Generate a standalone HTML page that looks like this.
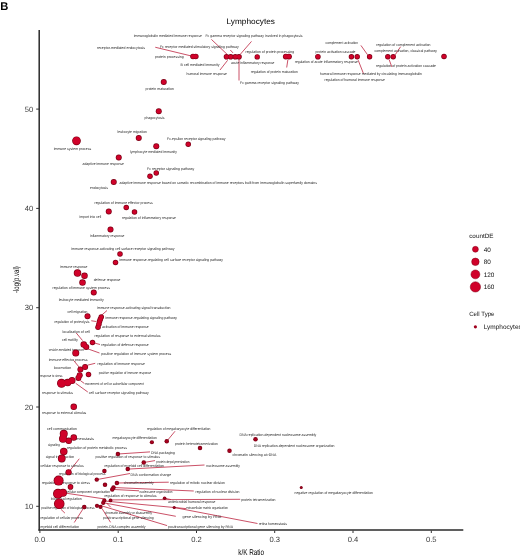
<!DOCTYPE html><html><head><meta charset="utf-8"><style>html,body{margin:0;padding:0;background:#fff;width:520px;height:557px;overflow:hidden}svg{display:block;will-change:transform}text{font-family:"Liberation Sans",sans-serif;text-rendering:geometricPrecision;-webkit-font-smoothing:antialiased}</style></head><body>
<svg width="520" height="557" viewBox="0 0 520 557">
<text x="0.3" y="9.8" font-size="11.2" font-weight="bold" fill="#000">B</text>
<text x="226.6" y="24.2" font-size="8" fill="#000" textLength="48.3" lengthAdjust="spacingAndGlyphs">Lymphocytes</text>
<g stroke="#bc2440" stroke-width="0.8" fill="none">
<line x1="155.25" y1="47.25" x2="192.50" y2="56.25"/>
<line x1="211.40" y1="39.40" x2="227.00" y2="54.20"/>
<line x1="251.50" y1="41.40" x2="240.40" y2="54.20"/>
<line x1="230.30" y1="50.00" x2="233.00" y2="52.90"/>
<line x1="227.60" y1="60.30" x2="220.00" y2="70.00"/>
<line x1="239.00" y1="59.00" x2="239.00" y2="80.50"/>
<line x1="287.90" y1="59.60" x2="286.70" y2="67.50"/>
<line x1="358.20" y1="60.20" x2="363.50" y2="73.70"/>
<line x1="360.90" y1="45.40" x2="367.60" y2="54.80"/>
<line x1="400.60" y1="46.70" x2="395.20" y2="54.80"/>
<line x1="389.10" y1="59.50" x2="391.80" y2="66.90"/>
<line x1="107.00" y1="310.50" x2="101.25" y2="315.50"/>
<line x1="91.25" y1="320.75" x2="96.25" y2="321.50"/>
<line x1="76.25" y1="333.00" x2="82.50" y2="340.50"/>
<line x1="92.50" y1="342.50" x2="100.00" y2="344.50"/>
<line x1="87.50" y1="348.75" x2="99.50" y2="353.00"/>
<line x1="73.60" y1="360.40" x2="79.70" y2="367.80"/>
<line x1="87.80" y1="365.10" x2="95.20" y2="363.30"/>
<line x1="80.40" y1="380.60" x2="84.40" y2="383.50"/>
<line x1="75.70" y1="383.30" x2="87.80" y2="392.00"/>
<line x1="79.25" y1="458.75" x2="68.60" y2="472.25"/>
<line x1="117.90" y1="454.00" x2="150.00" y2="451.90"/>
<line x1="143.75" y1="462.50" x2="155.00" y2="460.60"/>
<line x1="175.00" y1="431.25" x2="166.75" y2="441.25"/>
<line x1="127.75" y1="469.10" x2="204.50" y2="465.00"/>
<line x1="96.75" y1="479.60" x2="130.00" y2="473.50"/>
<line x1="116.90" y1="483.00" x2="168.75" y2="482.20"/>
<line x1="113.50" y1="487.50" x2="193.75" y2="491.00"/>
<line x1="112.25" y1="489.40" x2="139.00" y2="490.80"/>
<line x1="66.00" y1="493.20" x2="103.50" y2="498.80"/>
<line x1="164.60" y1="498.20" x2="171.00" y2="499.60"/>
<line x1="110.50" y1="499.90" x2="240.20" y2="499.30"/>
<line x1="104.30" y1="501.00" x2="174.20" y2="507.50"/>
<line x1="174.20" y1="507.50" x2="186.00" y2="508.60"/>
<line x1="174.20" y1="507.50" x2="257.50" y2="523.50"/>
<line x1="103.20" y1="502.70" x2="175.80" y2="516.30"/>
<line x1="100.50" y1="505.50" x2="167.10" y2="525.60"/>
<line x1="102.00" y1="508.50" x2="110.50" y2="522.30"/>
<line x1="107.00" y1="503.50" x2="110.80" y2="507.30"/>
<line x1="84.25" y1="507.00" x2="74.25" y2="522.50"/>
<line x1="61.00" y1="509.40" x2="64.90" y2="513.10"/>
</g>
<g font-size="3.70" fill="#262626" opacity="0.995">
<text x="133.75" y="36.95" textLength="68.15" lengthAdjust="spacingAndGlyphs">immunoglobulin mediated immune response</text>
<text x="205.50" y="36.65" textLength="97.00" lengthAdjust="spacingAndGlyphs">Fc gamma receptor signaling pathway involved in phagocytosis</text>
<text x="97.00" y="49.35" textLength="48.00" lengthAdjust="spacingAndGlyphs">receptor-mediated endocytosis</text>
<text x="160.00" y="47.55" textLength="78.75" lengthAdjust="spacingAndGlyphs">Fc receptor mediated stimulatory signaling pathway</text>
<text x="155.00" y="57.85" textLength="28.75" lengthAdjust="spacingAndGlyphs">protein processing</text>
<text x="180.60" y="66.05" textLength="38.90" lengthAdjust="spacingAndGlyphs">B cell mediated immunity</text>
<text x="186.50" y="74.85" textLength="40.50" lengthAdjust="spacingAndGlyphs">humoral immune response</text>
<text x="231.00" y="63.85" textLength="43.50" lengthAdjust="spacingAndGlyphs">acute inflammatory response</text>
<text x="245.50" y="52.85" textLength="48.70" lengthAdjust="spacingAndGlyphs">regulation of protein processing</text>
<text x="250.75" y="72.55" textLength="47.15" lengthAdjust="spacingAndGlyphs">regulation of protein maturation</text>
<text x="240.00" y="83.85" textLength="59.00" lengthAdjust="spacingAndGlyphs">Fc gamma receptor signaling pathway</text>
<text x="294.80" y="63.35" textLength="63.20" lengthAdjust="spacingAndGlyphs">regulation of acute inflammatory response</text>
<text x="315.50" y="52.65" textLength="40.00" lengthAdjust="spacingAndGlyphs">protein activation cascade</text>
<text x="320.00" y="75.35" textLength="102.00" lengthAdjust="spacingAndGlyphs">humoral immune response mediated by circulating immunoglobulin</text>
<text x="324.50" y="81.35" textLength="60.50" lengthAdjust="spacingAndGlyphs">regulation of humoral immune response</text>
<text x="325.50" y="44.35" textLength="32.50" lengthAdjust="spacingAndGlyphs">complement activation</text>
<text x="376.25" y="45.85" textLength="54.25" lengthAdjust="spacingAndGlyphs">regulation of complement activation</text>
<text x="374.50" y="52.15" textLength="62.50" lengthAdjust="spacingAndGlyphs">complement activation, classical pathway</text>
<text x="376.10" y="67.05" textLength="59.90" lengthAdjust="spacingAndGlyphs">regulation of protein activation cascade</text>
<text x="145.50" y="90.35" textLength="28.50" lengthAdjust="spacingAndGlyphs">protein maturation</text>
<text x="144.50" y="118.85" textLength="20.00" lengthAdjust="spacingAndGlyphs">phagocytosis</text>
<text x="53.75" y="149.65" textLength="37.50" lengthAdjust="spacingAndGlyphs">immune system process</text>
<text x="117.50" y="132.85" textLength="29.50" lengthAdjust="spacingAndGlyphs">leukocyte migration</text>
<text x="130.00" y="153.35" textLength="47.00" lengthAdjust="spacingAndGlyphs">lymphocyte mediated immunity</text>
<text x="167.00" y="140.35" textLength="58.50" lengthAdjust="spacingAndGlyphs">Fc-epsilon receptor signaling pathway</text>
<text x="82.50" y="164.55" textLength="41.50" lengthAdjust="spacingAndGlyphs">adaptive immune response</text>
<text x="147.00" y="170.15" textLength="47.30" lengthAdjust="spacingAndGlyphs">Fc receptor signaling pathway</text>
<text x="119.50" y="184.35" textLength="197.50" lengthAdjust="spacingAndGlyphs">adaptive immune response based on somatic recombination of immune receptors built from immunoglobulin superfamily domains</text>
<text x="90.00" y="189.10" textLength="18.00" lengthAdjust="spacingAndGlyphs">endocytosis</text>
<text x="94.50" y="203.85" textLength="58.30" lengthAdjust="spacingAndGlyphs">regulation of immune effector process</text>
<text x="79.50" y="218.35" textLength="21.75" lengthAdjust="spacingAndGlyphs">import into cell</text>
<text x="122.00" y="219.05" textLength="54.00" lengthAdjust="spacingAndGlyphs">regulation of inflammatory response</text>
<text x="90.00" y="236.85" textLength="34.50" lengthAdjust="spacingAndGlyphs">inflammatory response</text>
<text x="71.25" y="250.35" textLength="103.25" lengthAdjust="spacingAndGlyphs">immune response-activating cell surface receptor signaling pathway</text>
<text x="119.50" y="260.95" textLength="103.50" lengthAdjust="spacingAndGlyphs">immune response-regulating cell surface receptor signaling pathway</text>
<text x="60.00" y="267.60" textLength="27.50" lengthAdjust="spacingAndGlyphs">immune response</text>
<text x="93.75" y="281.15" textLength="26.75" lengthAdjust="spacingAndGlyphs">defense response</text>
<text x="52.50" y="289.35" textLength="57.50" lengthAdjust="spacingAndGlyphs">regulation of immune system process</text>
<text x="58.75" y="300.60" textLength="45.00" lengthAdjust="spacingAndGlyphs">leukocyte mediated immunity</text>
<text x="97.00" y="309.15" textLength="73.50" lengthAdjust="spacingAndGlyphs">immune response-activating signal transduction</text>
<text x="67.50" y="312.85" textLength="20.00" lengthAdjust="spacingAndGlyphs">cell migration</text>
<text x="105.50" y="319.35" textLength="71.50" lengthAdjust="spacingAndGlyphs">immune response-regulating signaling pathway</text>
<text x="54.50" y="322.85" textLength="35.00" lengthAdjust="spacingAndGlyphs">regulation of proteolysis</text>
<text x="102.00" y="328.35" textLength="46.75" lengthAdjust="spacingAndGlyphs">activation of immune response</text>
<text x="62.50" y="332.85" textLength="27.50" lengthAdjust="spacingAndGlyphs">localization of cell</text>
<text x="94.50" y="336.55" textLength="66.00" lengthAdjust="spacingAndGlyphs">regulation of response to external stimulus</text>
<text x="62.00" y="340.85" textLength="16.00" lengthAdjust="spacingAndGlyphs">cell motility</text>
<text x="101.25" y="345.65" textLength="47.50" lengthAdjust="spacingAndGlyphs">regulation of defense response</text>
<text x="48.75" y="350.85" textLength="35.00" lengthAdjust="spacingAndGlyphs">vesicle-mediated transport</text>
<text x="101.25" y="354.85" textLength="70.00" lengthAdjust="spacingAndGlyphs">positive regulation of immune system process</text>
<text x="48.75" y="360.60" textLength="38.75" lengthAdjust="spacingAndGlyphs">immune effector process</text>
<text x="97.50" y="365.10" textLength="47.50" lengthAdjust="spacingAndGlyphs">regulation of immune response</text>
<text x="53.75" y="368.85" textLength="17.50" lengthAdjust="spacingAndGlyphs">locomotion</text>
<text x="98.75" y="374.35" textLength="52.50" lengthAdjust="spacingAndGlyphs">positive regulation of immune response</text>
<text x="40.00" y="377.10" textLength="22.50" lengthAdjust="spacingAndGlyphs">response to stress</text>
<text x="85.00" y="384.60" textLength="58.75" lengthAdjust="spacingAndGlyphs">movement of cell or subcellular component</text>
<text x="88.75" y="394.35" textLength="60.00" lengthAdjust="spacingAndGlyphs">cell surface receptor signaling pathway</text>
<text x="42.00" y="394.35" textLength="31.00" lengthAdjust="spacingAndGlyphs">response to stimulus</text>
<text x="42.00" y="414.35" textLength="44.25" lengthAdjust="spacingAndGlyphs">response to external stimulus</text>
<text x="47.00" y="429.60" textLength="30.00" lengthAdjust="spacingAndGlyphs">cell communication</text>
<text x="72.00" y="439.60" textLength="22.00" lengthAdjust="spacingAndGlyphs">homeostasis</text>
<text x="48.00" y="446.35" textLength="12.00" lengthAdjust="spacingAndGlyphs">signaling</text>
<text x="67.00" y="448.85" textLength="60.00" lengthAdjust="spacingAndGlyphs">regulation of protein metabolic process</text>
<text x="45.75" y="457.60" textLength="28.50" lengthAdjust="spacingAndGlyphs">signal transduction</text>
<text x="112.50" y="438.85" textLength="44.50" lengthAdjust="spacingAndGlyphs">megakaryocyte differentiation</text>
<text x="147.00" y="430.10" textLength="63.50" lengthAdjust="spacingAndGlyphs">regulation of megakaryocyte differentiation</text>
<text x="175.00" y="444.60" textLength="43.00" lengthAdjust="spacingAndGlyphs">protein heterotetramerization</text>
<text x="232.50" y="455.60" textLength="43.75" lengthAdjust="spacingAndGlyphs">chromatin silencing at rDNA</text>
<text x="239.50" y="436.10" textLength="76.75" lengthAdjust="spacingAndGlyphs">DNA replication-dependent nucleosome assembly</text>
<text x="253.75" y="446.85" textLength="80.75" lengthAdjust="spacingAndGlyphs">DNA replication-dependent nucleosome organization</text>
<text x="151.00" y="453.85" textLength="24.00" lengthAdjust="spacingAndGlyphs">DNA packaging</text>
<text x="95.50" y="457.60" textLength="64.50" lengthAdjust="spacingAndGlyphs">positive regulation of response to stimulus</text>
<text x="156.25" y="462.60" textLength="33.25" lengthAdjust="spacingAndGlyphs">protein depolymerization</text>
<text x="40.50" y="466.95" textLength="43.10" lengthAdjust="spacingAndGlyphs">cellular response to stimulus</text>
<text x="104.40" y="467.15" textLength="59.60" lengthAdjust="spacingAndGlyphs">regulation of myeloid cell differentiation</text>
<text x="206.25" y="466.85" textLength="33.75" lengthAdjust="spacingAndGlyphs">nucleosome assembly</text>
<text x="58.75" y="475.10" textLength="46.75" lengthAdjust="spacingAndGlyphs">regulation of biological process</text>
<text x="130.60" y="475.55" textLength="40.65" lengthAdjust="spacingAndGlyphs">DNA conformation change</text>
<text x="41.75" y="484.25" textLength="48.15" lengthAdjust="spacingAndGlyphs">regulation of response to stress</text>
<text x="123.75" y="483.85" textLength="30.00" lengthAdjust="spacingAndGlyphs">chromatin assembly</text>
<text x="170.00" y="483.85" textLength="55.00" lengthAdjust="spacingAndGlyphs">regulation of mitotic nuclear division</text>
<text x="66.00" y="492.60" textLength="44.00" lengthAdjust="spacingAndGlyphs">cellular component organization</text>
<text x="139.40" y="492.60" textLength="33.10" lengthAdjust="spacingAndGlyphs">nucleosome organization</text>
<text x="195.50" y="492.60" textLength="44.00" lengthAdjust="spacingAndGlyphs">regulation of nuclear division</text>
<text x="104.40" y="497.05" textLength="52.10" lengthAdjust="spacingAndGlyphs">regulation of response to stimulus</text>
<text x="51.00" y="499.85" textLength="30.75" lengthAdjust="spacingAndGlyphs">biological regulation</text>
<text x="168.00" y="503.35" textLength="47.50" lengthAdjust="spacingAndGlyphs">antimicrobial humoral response</text>
<text x="241.25" y="501.35" textLength="34.25" lengthAdjust="spacingAndGlyphs">protein tetramerization</text>
<text x="41.25" y="509.35" textLength="53.25" lengthAdjust="spacingAndGlyphs">positive regulation of biological process</text>
<text x="186.25" y="509.35" textLength="41.75" lengthAdjust="spacingAndGlyphs">extracellular matrix organization</text>
<text x="105.00" y="514.05" textLength="47.00" lengthAdjust="spacingAndGlyphs">chromatin assembly or disassembly</text>
<text x="182.50" y="518.35" textLength="38.75" lengthAdjust="spacingAndGlyphs">gene silencing by RNA</text>
<text x="103.10" y="518.85" textLength="50.65" lengthAdjust="spacingAndGlyphs">posttranscriptional gene silencing</text>
<text x="40.50" y="518.60" textLength="42.50" lengthAdjust="spacingAndGlyphs">regulation of cellular process</text>
<text x="258.75" y="524.60" textLength="28.25" lengthAdjust="spacingAndGlyphs">retina homeostasis</text>
<text x="40.50" y="527.85" textLength="38.75" lengthAdjust="spacingAndGlyphs">myeloid cell differentiation</text>
<text x="97.50" y="527.60" textLength="48.10" lengthAdjust="spacingAndGlyphs">protein-DNA complex assembly</text>
<text x="168.00" y="528.10" textLength="65.00" lengthAdjust="spacingAndGlyphs">posttranscriptional gene silencing by RNA</text>
<text x="294.50" y="494.35" textLength="78.50" lengthAdjust="spacingAndGlyphs">negative regulation of megakaryocyte differentiation</text>
</g>
<g fill="#7e0016">
<circle cx="193.00" cy="56.50" r="2.80"/>
<circle cx="195.80" cy="56.50" r="2.80"/>
<circle cx="226.50" cy="56.80" r="2.80"/>
<circle cx="230.70" cy="56.80" r="2.80"/>
<circle cx="235.30" cy="56.80" r="2.80"/>
<circle cx="239.00" cy="56.80" r="2.80"/>
<circle cx="257.20" cy="56.90" r="2.70"/>
<circle cx="285.80" cy="56.60" r="2.90"/>
<circle cx="289.00" cy="56.60" r="2.90"/>
<circle cx="317.90" cy="56.70" r="2.80"/>
<circle cx="351.40" cy="56.80" r="2.70"/>
<circle cx="357.20" cy="56.80" r="2.70"/>
<circle cx="369.60" cy="56.80" r="2.70"/>
<circle cx="387.80" cy="56.80" r="2.70"/>
<circle cx="393.20" cy="56.80" r="2.70"/>
<circle cx="444.00" cy="56.50" r="2.75"/>
<circle cx="163.75" cy="82.00" r="3.00"/>
<circle cx="158.75" cy="111.25" r="3.00"/>
<circle cx="76.50" cy="140.80" r="4.35"/>
<circle cx="138.75" cy="138.00" r="3.00"/>
<circle cx="156.25" cy="146.25" r="3.00"/>
<circle cx="188.25" cy="144.25" r="2.75"/>
<circle cx="118.75" cy="157.50" r="3.00"/>
<circle cx="156.25" cy="173.00" r="2.75"/>
<circle cx="150.00" cy="176.25" r="2.75"/>
<circle cx="113.75" cy="182.00" r="3.00"/>
<circle cx="126.25" cy="207.50" r="2.75"/>
<circle cx="108.75" cy="211.50" r="3.00"/>
<circle cx="134.50" cy="212.00" r="2.75"/>
<circle cx="110.50" cy="229.50" r="3.00"/>
<circle cx="120.00" cy="254.00" r="2.75"/>
<circle cx="115.50" cy="262.50" r="2.75"/>
<circle cx="77.50" cy="273.00" r="3.75"/>
<circle cx="84.50" cy="275.75" r="3.25"/>
<circle cx="82.50" cy="282.50" r="3.25"/>
<circle cx="93.75" cy="292.50" r="3.00"/>
<circle cx="87.50" cy="316.25" r="3.00"/>
<circle cx="101.25" cy="317.00" r="2.75"/>
<circle cx="100.30" cy="319.30" r="2.75"/>
<circle cx="99.50" cy="321.60" r="2.75"/>
<circle cx="98.90" cy="324.20" r="2.75"/>
<circle cx="98.00" cy="327.30" r="2.75"/>
<circle cx="92.50" cy="342.50" r="2.75"/>
<circle cx="83.75" cy="344.50" r="3.25"/>
<circle cx="86.25" cy="347.00" r="3.00"/>
<circle cx="75.75" cy="353.00" r="3.50"/>
<circle cx="85.10" cy="367.10" r="3.00"/>
<circle cx="80.40" cy="369.50" r="3.00"/>
<circle cx="79.70" cy="375.20" r="3.00"/>
<circle cx="78.40" cy="377.90" r="3.00"/>
<circle cx="72.00" cy="380.60" r="3.50"/>
<circle cx="67.60" cy="382.60" r="3.75"/>
<circle cx="61.50" cy="383.30" r="4.50"/>
<circle cx="88.50" cy="374.50" r="2.75"/>
<circle cx="73.75" cy="406.75" r="3.25"/>
<circle cx="63.75" cy="433.75" r="4.00"/>
<circle cx="63.00" cy="438.75" r="4.00"/>
<circle cx="68.75" cy="440.75" r="3.25"/>
<circle cx="73.75" cy="437.50" r="3.25"/>
<circle cx="63.75" cy="451.50" r="3.75"/>
<circle cx="61.75" cy="458.50" r="3.88"/>
<circle cx="68.60" cy="472.25" r="3.12"/>
<circle cx="58.60" cy="480.60" r="5.00"/>
<circle cx="70.50" cy="486.90" r="2.80"/>
<circle cx="58.00" cy="493.75" r="5.00"/>
<circle cx="63.00" cy="492.75" r="4.00"/>
<circle cx="59.25" cy="503.75" r="5.30"/>
<circle cx="84.25" cy="506.90" r="2.25"/>
<circle cx="151.90" cy="442.25" r="2.10"/>
<circle cx="166.75" cy="441.25" r="2.25"/>
<circle cx="117.90" cy="454.00" r="2.25"/>
<circle cx="143.75" cy="462.50" r="2.25"/>
<circle cx="127.75" cy="469.10" r="2.25"/>
<circle cx="104.40" cy="471.00" r="2.25"/>
<circle cx="96.75" cy="479.60" r="2.20"/>
<circle cx="105.00" cy="484.75" r="2.25"/>
<circle cx="116.90" cy="483.00" r="2.25"/>
<circle cx="113.50" cy="487.50" r="2.25"/>
<circle cx="112.25" cy="489.40" r="2.25"/>
<circle cx="110.50" cy="500.40" r="1.90"/>
<circle cx="104.30" cy="500.40" r="2.10"/>
<circle cx="103.20" cy="502.90" r="2.10"/>
<circle cx="97.00" cy="505.80" r="2.10"/>
<circle cx="100.50" cy="506.90" r="2.10"/>
<circle cx="200.00" cy="448.00" r="2.25"/>
<circle cx="229.50" cy="450.75" r="2.25"/>
<circle cx="255.50" cy="439.25" r="2.25"/>
<circle cx="164.60" cy="498.20" r="1.80"/>
<circle cx="174.20" cy="507.50" r="1.60"/>
<circle cx="301.25" cy="487.50" r="1.50"/>
</g>
<g fill="#d0022a">
<circle cx="193.00" cy="56.50" r="2.15"/>
<circle cx="195.80" cy="56.50" r="2.15"/>
<circle cx="226.50" cy="56.80" r="2.15"/>
<circle cx="230.70" cy="56.80" r="2.15"/>
<circle cx="235.30" cy="56.80" r="2.15"/>
<circle cx="239.00" cy="56.80" r="2.15"/>
<circle cx="257.20" cy="56.90" r="2.05"/>
<circle cx="285.80" cy="56.60" r="2.25"/>
<circle cx="289.00" cy="56.60" r="2.25"/>
<circle cx="317.90" cy="56.70" r="2.15"/>
<circle cx="351.40" cy="56.80" r="2.05"/>
<circle cx="357.20" cy="56.80" r="2.05"/>
<circle cx="369.60" cy="56.80" r="2.05"/>
<circle cx="387.80" cy="56.80" r="2.05"/>
<circle cx="393.20" cy="56.80" r="2.05"/>
<circle cx="444.00" cy="56.50" r="2.10"/>
<circle cx="163.75" cy="82.00" r="2.35"/>
<circle cx="158.75" cy="111.25" r="2.35"/>
<circle cx="76.50" cy="140.80" r="3.70"/>
<circle cx="138.75" cy="138.00" r="2.35"/>
<circle cx="156.25" cy="146.25" r="2.35"/>
<circle cx="188.25" cy="144.25" r="2.10"/>
<circle cx="118.75" cy="157.50" r="2.35"/>
<circle cx="156.25" cy="173.00" r="2.10"/>
<circle cx="150.00" cy="176.25" r="2.10"/>
<circle cx="113.75" cy="182.00" r="2.35"/>
<circle cx="126.25" cy="207.50" r="2.10"/>
<circle cx="108.75" cy="211.50" r="2.35"/>
<circle cx="134.50" cy="212.00" r="2.10"/>
<circle cx="110.50" cy="229.50" r="2.35"/>
<circle cx="120.00" cy="254.00" r="2.10"/>
<circle cx="115.50" cy="262.50" r="2.10"/>
<circle cx="77.50" cy="273.00" r="3.10"/>
<circle cx="84.50" cy="275.75" r="2.60"/>
<circle cx="82.50" cy="282.50" r="2.60"/>
<circle cx="93.75" cy="292.50" r="2.35"/>
<circle cx="87.50" cy="316.25" r="2.35"/>
<circle cx="101.25" cy="317.00" r="2.10"/>
<circle cx="100.30" cy="319.30" r="2.10"/>
<circle cx="99.50" cy="321.60" r="2.10"/>
<circle cx="98.90" cy="324.20" r="2.10"/>
<circle cx="98.00" cy="327.30" r="2.10"/>
<circle cx="92.50" cy="342.50" r="2.10"/>
<circle cx="83.75" cy="344.50" r="2.60"/>
<circle cx="86.25" cy="347.00" r="2.35"/>
<circle cx="75.75" cy="353.00" r="2.85"/>
<circle cx="85.10" cy="367.10" r="2.35"/>
<circle cx="80.40" cy="369.50" r="2.35"/>
<circle cx="79.70" cy="375.20" r="2.35"/>
<circle cx="78.40" cy="377.90" r="2.35"/>
<circle cx="72.00" cy="380.60" r="2.85"/>
<circle cx="67.60" cy="382.60" r="3.10"/>
<circle cx="61.50" cy="383.30" r="3.85"/>
<circle cx="88.50" cy="374.50" r="2.10"/>
<circle cx="73.75" cy="406.75" r="2.60"/>
<circle cx="63.75" cy="433.75" r="3.35"/>
<circle cx="63.00" cy="438.75" r="3.35"/>
<circle cx="68.75" cy="440.75" r="2.60"/>
<circle cx="73.75" cy="437.50" r="2.60"/>
<circle cx="63.75" cy="451.50" r="3.10"/>
<circle cx="61.75" cy="458.50" r="3.23"/>
<circle cx="68.60" cy="472.25" r="2.48"/>
<circle cx="58.60" cy="480.60" r="4.35"/>
<circle cx="70.50" cy="486.90" r="2.15"/>
<circle cx="58.00" cy="493.75" r="4.35"/>
<circle cx="63.00" cy="492.75" r="3.35"/>
<circle cx="59.25" cy="503.75" r="4.65"/>
<circle cx="84.25" cy="506.90" r="1.50" fill="#a8001f"/>
<circle cx="151.90" cy="442.25" r="1.35" fill="#a8001f"/>
<circle cx="166.75" cy="441.25" r="1.50" fill="#a8001f"/>
<circle cx="117.90" cy="454.00" r="1.50" fill="#a8001f"/>
<circle cx="143.75" cy="462.50" r="1.50" fill="#a8001f"/>
<circle cx="127.75" cy="469.10" r="1.50" fill="#a8001f"/>
<circle cx="104.40" cy="471.00" r="1.50" fill="#a8001f"/>
<circle cx="96.75" cy="479.60" r="1.45" fill="#a8001f"/>
<circle cx="105.00" cy="484.75" r="1.50" fill="#a8001f"/>
<circle cx="116.90" cy="483.00" r="1.50" fill="#a8001f"/>
<circle cx="113.50" cy="487.50" r="1.50" fill="#a8001f"/>
<circle cx="112.25" cy="489.40" r="1.50" fill="#a8001f"/>
<circle cx="110.50" cy="500.40" r="1.15" fill="#a8001f"/>
<circle cx="104.30" cy="500.40" r="1.35" fill="#a8001f"/>
<circle cx="103.20" cy="502.90" r="1.35" fill="#a8001f"/>
<circle cx="97.00" cy="505.80" r="1.35" fill="#a8001f"/>
<circle cx="100.50" cy="506.90" r="1.35" fill="#a8001f"/>
<circle cx="200.00" cy="448.00" r="1.50" fill="#a8001f"/>
<circle cx="229.50" cy="450.75" r="1.50" fill="#a8001f"/>
<circle cx="255.50" cy="439.25" r="1.50" fill="#a8001f"/>
<circle cx="164.60" cy="498.20" r="1.05" fill="#a8001f"/>
<circle cx="174.20" cy="507.50" r="0.85" fill="#a8001f"/>
<circle cx="301.25" cy="487.50" r="0.75" fill="#a8001f"/>
</g>
<g stroke="#2a2a2a" stroke-width="1.5" fill="none">
<line x1="39.2" y1="30" x2="39.2" y2="530.7"/>
<line x1="38.5" y1="530" x2="463.3" y2="530"/>
</g>
<g stroke="#333" stroke-width="1">
<line x1="36.2" y1="109.10" x2="39" y2="109.10"/>
<line x1="36.2" y1="208.40" x2="39" y2="208.40"/>
<line x1="36.2" y1="307.70" x2="39" y2="307.70"/>
<line x1="36.2" y1="407.00" x2="39" y2="407.00"/>
<line x1="36.2" y1="506.30" x2="39" y2="506.30"/>
<line x1="39.90" y1="530.5" x2="39.90" y2="533"/>
<line x1="118.20" y1="530.5" x2="118.20" y2="533"/>
<line x1="196.50" y1="530.5" x2="196.50" y2="533"/>
<line x1="274.70" y1="530.5" x2="274.70" y2="533"/>
<line x1="353.00" y1="530.5" x2="353.00" y2="533"/>
<line x1="431.30" y1="530.5" x2="431.30" y2="533"/>
</g>
<g font-size="7.6" fill="#3a3a3a">
<text x="33.3" y="111.60" text-anchor="end">50</text>
<text x="33.3" y="210.90" text-anchor="end">40</text>
<text x="33.3" y="310.20" text-anchor="end">30</text>
<text x="33.3" y="409.50" text-anchor="end">20</text>
<text x="33.3" y="508.80" text-anchor="end">10</text>
<text x="39.90" y="541.90" text-anchor="middle">0.0</text>
<text x="118.20" y="541.90" text-anchor="middle">0.1</text>
<text x="196.50" y="541.90" text-anchor="middle">0.2</text>
<text x="274.70" y="541.90" text-anchor="middle">0.3</text>
<text x="353.00" y="541.90" text-anchor="middle">0.4</text>
<text x="431.30" y="541.90" text-anchor="middle">0.5</text>
</g>
<text x="238.2" y="554.5" font-size="8.3" fill="#000" textLength="25.9" lengthAdjust="spacingAndGlyphs">k/K Ratio</text>
<text transform="translate(18.7,279.6) rotate(-90)" font-size="8.4" fill="#111" text-anchor="middle" textLength="26.8" lengthAdjust="spacingAndGlyphs">-log(p.val)</text>
<text x="469.2" y="238.4" font-size="6.2" fill="#111" textLength="24.3" lengthAdjust="spacingAndGlyphs">countDE</text>
<circle cx="475.4" cy="249.30" r="2.95" fill="#d0022a" stroke="#7e0016" stroke-width="0.5"/>
<text x="483.7" y="251.60" font-size="6.4" fill="#111">40</text>
<circle cx="475.4" cy="261.80" r="3.75" fill="#d0022a" stroke="#7e0016" stroke-width="0.5"/>
<text x="483.7" y="264.10" font-size="6.4" fill="#111">80</text>
<circle cx="475.4" cy="274.40" r="4.45" fill="#d0022a" stroke="#7e0016" stroke-width="0.5"/>
<text x="483.7" y="276.70" font-size="6.4" fill="#111">120</text>
<circle cx="475.4" cy="286.90" r="5.15" fill="#d0022a" stroke="#7e0016" stroke-width="0.5"/>
<text x="483.7" y="289.20" font-size="6.4" fill="#111">160</text>
<text x="469.2" y="316" font-size="6.2" fill="#111" textLength="25.3" lengthAdjust="spacingAndGlyphs">Cell Type</text>
<circle cx="475.4" cy="326.8" r="1.6" fill="#a0001e"/>
<text x="483.7" y="329" font-size="6.5" fill="#111">Lymphocytes</text>
</svg></body></html>
